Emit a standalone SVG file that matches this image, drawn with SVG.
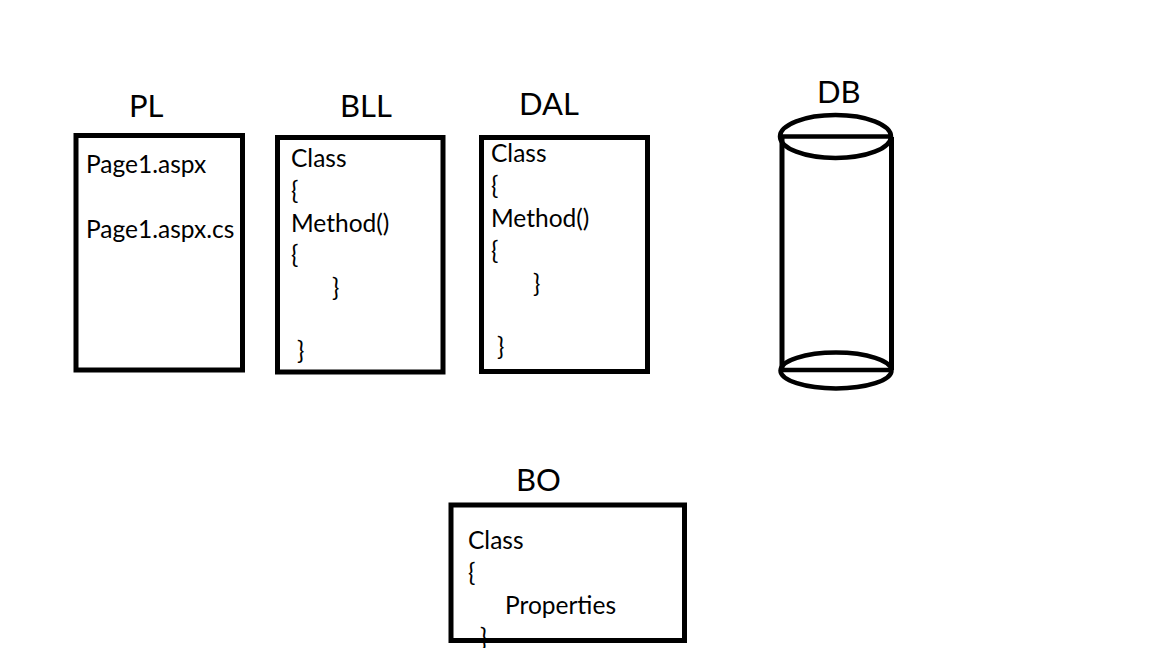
<svg xmlns="http://www.w3.org/2000/svg" width="1152" height="648" viewBox="0 0 1152 648">
<style>
.box{fill:none;stroke:#000;stroke-width:5}
.ttl{font-family:"Lato","Liberation Sans",sans-serif;font-size:31px;fill:#000}
.txt{font-family:"Lato","Liberation Sans",sans-serif;font-size:24.5px;fill:#000}
</style>
<rect width="1152" height="648" fill="#fff"/>
<g id="connectors"></g>
<g id="PL">
<text class="ttl" x="129" y="117">PL</text>
<text class="txt" x="86" y="173">Page1.aspx</text>
<text class="txt" x="86" y="238">Page1.aspx.cs</text>
<rect class="box" x="76" y="135.5" width="166.5" height="234.5"/>
</g>
<g id="BLL">
<text class="ttl" x="340" y="117">BLL</text>
<text class="txt" x="291" y="167">Class</text>
<text class="txt" x="291" y="199">{</text>
<text class="txt" x="291" y="232">Method()</text>
<text class="txt" x="291" y="263">{</text>
<text class="txt" x="332" y="296">}</text>
<text class="txt" x="297" y="359">}</text>
<rect class="box" x="277.5" y="137.5" width="165.5" height="234.5"/>
</g>
<g id="DAL">
<text class="ttl" x="519" y="115">DAL</text>
<text class="txt" x="491" y="162">Class</text>
<text class="txt" x="491" y="194">{</text>
<text class="txt" x="491" y="227">Method()</text>
<text class="txt" x="491" y="259">{</text>
<text class="txt" x="533" y="292">}</text>
<text class="txt" x="497" y="355">}</text>
<rect class="box" x="481.5" y="137.5" width="166" height="234"/>
</g>
<g id="DB">
<text class="ttl" x="817" y="103">DB</text>
<line x1="782" y1="137" x2="782" y2="370" stroke="#000" stroke-width="5"/>
<line x1="891.5" y1="137" x2="891.5" y2="370" stroke="#000" stroke-width="5"/>
<ellipse cx="835.5" cy="136.5" rx="55.5" ry="21.5" fill="none" stroke="#000" stroke-width="4.5"/>
<line x1="780" y1="136.5" x2="891" y2="136.5" stroke="#000" stroke-width="4.5"/>
<ellipse cx="836" cy="370.5" rx="55.5" ry="18" fill="none" stroke="#000" stroke-width="4.5"/>
<line x1="781" y1="370" x2="891" y2="370" stroke="#000" stroke-width="4.5"/>
</g>
<g id="BO">
<text class="ttl" x="516" y="491">BO</text>
<text class="txt" x="468" y="549">Class</text>
<text class="txt" x="468" y="581">{</text>
<text class="txt" x="505" y="614">Properties</text>
<text class="txt" x="480" y="646">}</text>
<rect class="box" x="451" y="505" width="233.5" height="135.5"/>
</g>
</svg>
